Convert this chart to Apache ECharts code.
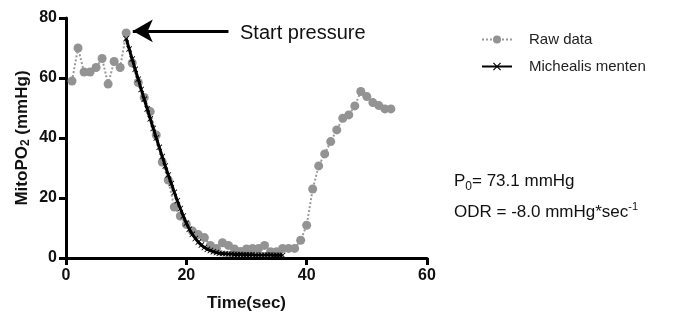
<!DOCTYPE html>
<html>
<head>
<meta charset="utf-8">
<script src="https://cdn.jsdelivr.net/npm/echarts@6/dist/echarts.min.js"></script>
<style>
  html, body { margin: 0; padding: 0; background: #fff; }
  #chart { width: 685px; height: 322px; }
</style>
</head>
<body>
<div id="chart"></div>
<script>
// raw MitoPO2 samples (sec, mmHg)
const rawTime = [1, 2, 3, 4, 5, 6, 7, 8, 9, 10, 11, 12, 13, 14, 15, 16, 17, 18, 19, 20,
  21, 22, 23, 24, 25, 26, 27, 28, 29, 30, 31, 32, 33, 34, 35, 36, 37, 38, 39, 40,
  41, 42, 43, 44, 45, 46, 47, 48, 49, 50, 51, 52, 53, 54]
const rawValue = [59, 70, 62, 62, 63.5, 66.5, 58, 65.5, 63.5, 75, 65, 58.5, 53.5, 48.8, 41, 32, 26, 17, 14, 11.2,
  9, 7.8, 6.8, 4.2, 3.2, 5.1, 4.2, 3, 2.2, 3, 3.2, 3.2, 4.2, 2.1, 2.1, 3.2, 3.2, 3.2, 5.9, 10.9,
  23, 30.7, 34.7, 38.8, 42.7, 46.6, 47.7, 50.7, 55.5, 53.8, 51.8, 50.8, 49.7, 49.7]

// Michaelis-Menten fit curve
const fitTime = [10, 10.5, 11, 11.5, 12, 12.5, 13, 13.5, 14, 14.5, 15, 15.5, 16, 16.5, 17, 17.5, 18, 18.5, 19, 19.5,
  20, 20.5, 21, 21.5, 22, 22.5, 23, 23.5, 24, 24.5, 25, 25.5, 26, 26.5, 27, 27.5, 28, 28.5, 29, 29.5,
  30, 30.5, 31, 31.5, 32, 32.5, 33, 33.5, 34, 34.5, 35, 35.5, 36]
const fitValue = [73.1, 69.7, 66.3, 62.9, 59.6, 56.2, 52.9, 49.7, 46.4, 43.2, 40.0, 36.9, 33.8, 30.7, 27.7, 24.8, 21.9, 19.1, 16.5, 14.0,
  11.6, 9.6, 7.9, 6.5, 5.3, 4.3, 3.5, 2.9, 2.5, 2.1, 1.8, 1.6, 1.5, 1.4, 1.3, 1.3, 1.2, 1.2, 1.2, 1.1,
  1.1, 1.1, 1.1, 1.0, 1.0, 1.0, 1.0, 1.0, 1.0, 0.9, 0.9, 0.9, 0.9]

const xTicks = [0, 20, 40, 60]
const yTicks = [0, 20, 40, 60, 80]

// arrow pointing at the start pressure
const arrowFrom = [27, 75.7]
const arrowTo = [11.1, 75.7]

const crossPath = 'path://M0,1L1,0L5,4L9,0L10,1L6,5L10,9L9,10L5,6L1,10L0,9L4,5Z'
const font = '"Liberation Sans", Arial, Helvetica, sans-serif'

let chart = echarts.init(document.getElementById('chart'))

const option = {
  animation: false,
  textStyle: { fontFamily: font },
  grid: { left: 66, right: 258, top: 18, bottom: 64 },
  legend: {
    orient: 'vertical',
    left: 476,
    top: 27,
    itemWidth: 30,
    itemHeight: 10,
    itemGap: 12,
    textStyle: { fontSize: 15, color: '#222', fontFamily: font, padding: [0, 0, 0, 12] },
    data: ['Raw data', 'Michealis menten']
  },
  xAxis: {
    type: 'value',
    min: xTicks[0],
    max: xTicks[xTicks.length - 1],
    interval: 20,
    name: 'Time(sec)',
    nameLocation: 'middle',
    nameGap: 37,
    nameTextStyle: { fontSize: 17, fontWeight: 'bold', color: '#111' },
    axisLine: { lineStyle: { color: '#000', width: 3 } },
    axisTick: { length: 7, lineStyle: { width: 3, color: '#000' } },
    axisLabel: { fontSize: 16, fontWeight: 'bold', color: '#111', margin: 10 },
    splitLine: { show: false }
  },
  yAxis: {
    type: 'value',
    min: yTicks[0],
    max: yTicks[yTicks.length - 1],
    interval: 20,
    name: '{a|MitoPO}{b|2}{a| (mmHg)}',
    nameLocation: 'middle',
    nameGap: 34,
    nameMoveOverlap: false,
    nameRotate: 90,
    nameTextStyle: {
      rich: {
        a: { fontSize: 17, fontWeight: 'bold', color: '#111', fontFamily: font, lineHeight: 20 },
        b: { fontSize: 12, fontWeight: 'bold', color: '#111', fontFamily: font, lineHeight: 8, verticalAlign: 'bottom' }
      }
    },
    axisLine: { show: true, lineStyle: { color: '#000', width: 3 } },
    axisTick: { show: true, length: 7, lineStyle: { width: 3, color: '#000' } },
    axisLabel: { fontSize: 16, fontWeight: 'bold', color: '#111', margin: 9 },
    splitLine: { show: false }
  },
  series: [
    {
      name: 'Raw data',
      type: 'line',
      data: rawTime.map((t, i) => [t, rawValue[i]]),
      symbol: 'circle',
      symbolSize: 9,
      itemStyle: { color: '#939393' },
      lineStyle: { color: '#9a9a9a', width: 2, type: 'dotted' },
      z: 2,
      markLine: {
        silent: true,
        symbol: ['none', 'arrow'],
        symbolSize: [17, 20],
        label: { show: false },
        lineStyle: { color: '#000', width: 3, type: 'solid' },
        data: [[{ coord: arrowFrom }, { coord: arrowTo }]]
      }
    },
    {
      name: 'Michealis menten',
      type: 'line',
      data: fitTime.map((t, i) => [t, fitValue[i]]),
      symbol: crossPath,
      symbolSize: 6,
      itemStyle: { color: '#000' },
      lineStyle: { color: '#000', width: 3 },
      z: 3
    }
  ],
  graphic: [
    {
      type: 'text', left: 240, top: 23,
      style: { text: 'Start pressure', fontSize: 20, fill: '#111', fontFamily: font }
    },
    {
      type: 'text', left: 454, top: 173,
      style: {
        text: '{a|P}{s|0}{a|= 73.1 mmHg}',
        rich: {
          a: { fontSize: 17, fill: '#111', fontFamily: font, lineHeight: 22 },
          s: { fontSize: 12, fill: '#111', fontFamily: font, lineHeight: 8, verticalAlign: 'bottom' }
        }
      }
    },
    {
      type: 'text', left: 454, top: 201,
      style: {
        text: '{a|ODR = -8.0 mmHg*sec}{p|-1}',
        rich: {
          a: { fontSize: 17, fill: '#111', fontFamily: font, lineHeight: 22 },
          p: { fontSize: 11, fill: '#111', fontFamily: font, lineHeight: 18, verticalAlign: 'top' }
        }
      }
    }
  ]
}

chart.setOption(option)
</script>
</body>
</html>
